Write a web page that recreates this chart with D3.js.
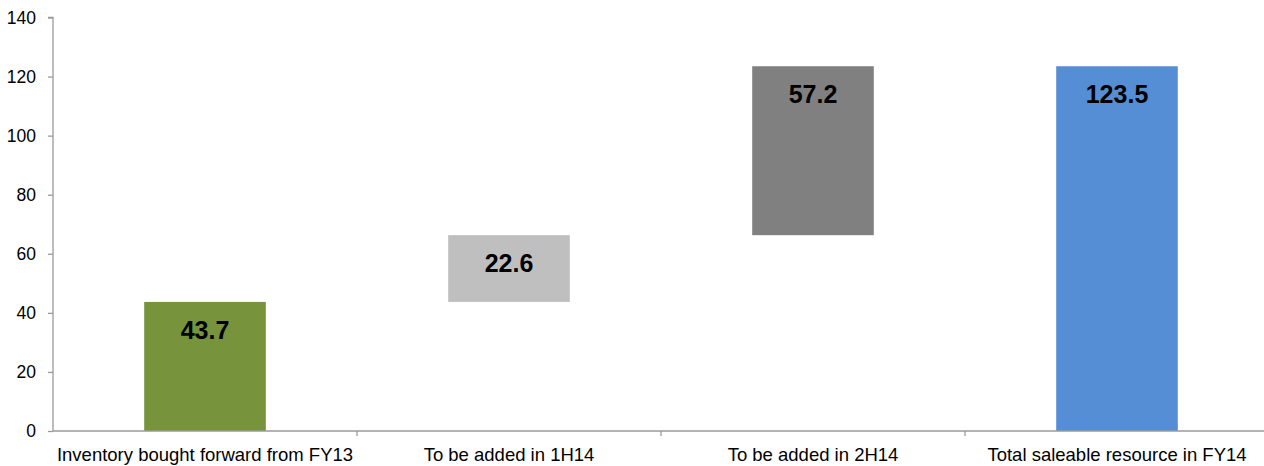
<!DOCTYPE html>
<html>
<head>
<meta charset="utf-8">
<script src="https://cdnjs.cloudflare.com/ajax/libs/d3/7.8.5/d3.min.js"></script>
<style>
  html, body { margin: 0; padding: 0; background: #fff; }
  svg { display: block; font-family: Arial, "Liberation Sans", sans-serif; }
</style>
</head>
<body>
<svg id="chart" width="1264" height="466"></svg>
<script>
// Waterfall of saleable resource build-up
const categories = [
  "Inventory bought forward from FY13",
  "To be added in 1H14",
  "To be added in 2H14",
  "Total saleable resource in FY14"
];
const values = [43.7, 22.6, 57.2, 123.5];
const isTotal = [false, false, false, true];
const barColors = ["#77933C", "#BFBFBF", "#808080", "#558ED5"];
const yTicks = [0, 20, 40, 60, 80, 100, 120, 140];

// Stack running segments; the total bar starts at zero
let running = 0;
const segments = values.map((v, i) => {
  let start, end;
  if (isTotal[i]) { start = 0; end = v; }
  else { start = running; end = running + v; running = end; }
  return { cat: categories[i], value: v, start, end, color: barColors[i] };
});

const svg = d3.select("#chart");
const margin = { left: 53, top: 17.5 };
const plotBottom = 431;
const bandStep = 304;

const x = d3.scaleBand()
  .domain(categories)
  .range([margin.left, margin.left + bandStep * categories.length])
  .paddingInner(0.6)
  .paddingOuter(0.3);

const y = d3.scaleLinear()
  .domain([0, 140])
  .range([plotBottom, margin.top]);

const axisColor = "#9a9a9a";

// Bars
svg.append("g")
  .selectAll("rect")
  .data(segments)
  .join("rect")
  .attr("x", d => x(d.cat))
  .attr("width", x.bandwidth())
  .attr("y", d => y(d.end))
  .attr("height", d => y(d.start) - y(d.end))
  .attr("fill", d => d.color);

// Value labels near the top of each bar
svg.append("g")
  .selectAll("text")
  .data(segments)
  .join("text")
  .attr("x", d => x(d.cat) + x.bandwidth() / 2)
  .attr("y", d => y(d.end) + 37)
  .attr("text-anchor", "middle")
  .attr("font-weight", "bold")
  .attr("font-size", 25)
  .attr("fill", "#000")
  .text(d => d.value.toFixed(1));

// Y axis
const yAxis = d3.axisLeft(y)
  .tickValues(yTicks)
  .tickSize(5)
  .tickPadding(12)
  .tickFormat(d3.format("d"));
const gy = svg.append("g")
  .attr("transform", `translate(${margin.left},0)`)
  .call(yAxis);
gy.select(".domain").attr("stroke", axisColor).attr("stroke-width", 1.3)
  .attr("d", `M-5,${y(140)}H0V${y(0)}`);
gy.selectAll(".tick line").attr("stroke", axisColor).attr("stroke-width", 1.3);
gy.selectAll(".tick text")
  .attr("font-size", 17.5)
  .attr("fill", "#000")
  .attr("font-family", "Arial, 'Liberation Sans', sans-serif");

// X axis with ticks on band boundaries
const gx = svg.append("g")
  .attr("transform", `translate(0,${plotBottom})`);
gx.append("line")
  .attr("x1", margin.left).attr("x2", 1264)
  .attr("y1", 0).attr("y2", 0)
  .attr("stroke", axisColor).attr("stroke-width", 1.3);
const boundaries = categories.slice(1).map(c => x(c) - x.step() * x.paddingInner() / 2);
gx.selectAll("line.bound")
  .data(boundaries)
  .join("line")
  .attr("class", "bound")
  .attr("x1", d => d).attr("x2", d => d)
  .attr("y1", 0).attr("y2", 5)
  .attr("stroke", axisColor).attr("stroke-width", 1.3);
gx.selectAll("text")
  .data(categories)
  .join("text")
  .attr("x", d => x(d) + x.bandwidth() / 2)
  .attr("y", 30)
  .attr("text-anchor", "middle")
  .attr("font-size", 18.5)
  .attr("fill", "#000")
  .text(d => d);
</script>
</body>
</html>
